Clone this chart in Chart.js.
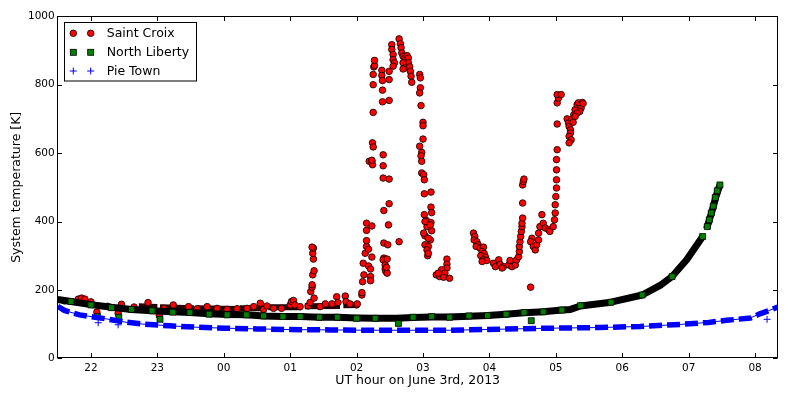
<!DOCTYPE html>
<html>
<head>
<meta charset="utf-8">
<script src="https://cdn.jsdelivr.net/npm/chart.js@4.4.0/dist/chart.umd.min.js"></script>
<style>
  html, body { margin: 0; padding: 0; background: #fff; }
  #wrap { width: 789px; height: 399px; }
</style>
</head>
<body>
<div id="wrap"><canvas id="tsysChart" width="789" height="399"></canvas></div>
<script>
// ==================== DATA ====================
// x = UT hour counted from 00h on June 2nd (24 = 00h on June 3rd), y = Tsys in K
const hourTicks = [22, 23, 24, 25, 26, 27, 28, 29, 30, 31, 32];
const tempTicks = [0, 200, 400, 600, 800, 1000];
const seriesNames = ['Saint Croix', 'North Liberty', 'Pie Town'];

// Saint Croix: individual samples
const saintCroix = [
  [21.6,168],[21.81,173],[21.86,176],[21.91,173],[22.0,165],[22.09,135],[22.25,152],[22.41,132],[22.46,158],
  [22.65,150],[22.86,163],[23.03,125],[23.1,146],[23.24,156],[23.47,151],[23.6,145],[23.75,151],[23.9,146],
  [24.05,143],[24.2,145],[24.35,146],[24.45,151],[24.55,161],[24.60,143],[24.65,153],[24.75,146],[24.87,146],
  [25.00,156],[25.02,166],[25.05,169],[25.07,156],[25.15,151],
  [25.27,153],[25.30,163],[25.36,176],[25.31,195],[25.33,208],[25.33,215],[25.34,244],[25.36,256],[25.35,290],
  [25.34,307],[25.35,322],[25.33,325],
  [25.45,151],[25.53,159],[25.63,159],[25.70,180],[25.72,163],[25.83,182],[25.84,166],[25.90,159],[26.00,156],[26.01,159],
  [26.08,185],[26.08,192],[26.09,224],[26.11,244],[26.10,278],[26.13,307],[26.15,327],[26.15,344],[26.15,374],
  [26.15,395],[26.23,387],[26.18,319],[26.23,296],[26.18,270],[26.21,261],[26.21,239],[26.21,227],
  [26.19,576],[26.23,576],[26.24,566],[26.23,579],[26.24,630],[26.25,618],[26.25,719],[26.25,800],[26.25,830],
  [26.26,852],[26.27,856],[26.27,871],
  [26.38,842],[26.38,827],[26.39,812],[26.39,784],[26.39,750],[26.40,595],[26.40,563],[26.40,527],[26.41,432],
  [26.41,337],[26.41,293],[26.40,288],[26.43,273],[26.43,261],[26.44,254],[26.46,249],[26.45,266],[26.46,290],
  [26.47,332],[26.48,390],[26.49,452],[26.49,524],[26.49,754],[26.49,815],[26.49,839],
  [26.53,917],[26.53,903],[26.55,888],[26.55,873],[26.57,864],[26.55,854],[26.64,934],[26.66,920],[26.67,908],
  [26.68,893],[26.70,883],[26.73,878],[26.76,885],[26.78,878],[26.78,864],[26.70,864],[26.73,849],[26.80,852],
  [26.81,839],[26.82,825],[26.83,807],[26.70,846],[26.64,341],
  [26.95,830],[26.96,820],[26.96,791],[26.95,776],[26.97,739],[27.00,690],[27.00,680],[27.00,641],[26.95,620],
  [26.98,602],[26.97,592],[26.98,576],[26.98,542],[27.01,537],[27.02,522],[27.02,481],[27.12,486],[27.12,442],
  [27.13,426],[27.02,420],[27.05,403],[27.12,397],[27.06,385],[27.13,373],[27.03,358],[27.11,346],[27.03,332],
  [27.08,327],[27.06,317],[27.07,300],[27.03,400],[27.11,390],[27.01,366],[27.08,351],[27.08,307],
  [27.36,290],[27.36,275],[27.36,264],[27.28,259],[27.33,249],[27.20,244],[27.25,239],[27.31,237],[27.40,234],[27.23,249],
  [27.76,366],[27.78,356],[27.77,346],[27.81,341],[27.83,332],[27.80,327],[27.86,322],[27.91,325],[27.89,312],
  [27.92,307],[27.87,300],[27.94,296],[27.91,288],[27.96,286],[27.89,283],
  [28.06,278],[28.09,268],[28.14,288],[28.16,275],[28.21,268],[28.19,264],[28.29,273],[28.31,286],[28.34,268],
  [28.39,273],[28.41,288],[28.44,297],[28.45,312],[28.45,327],[28.46,341],[28.47,356],[28.48,371],[28.49,385],
  [28.49,395],[28.50,410],[28.50,454],[28.50,507],[28.51,517],[28.52,524],[28.62,208],
  [28.64,351],[28.62,341],[28.66,327],[28.69,317],[28.71,332],[28.74,346],[28.74,366],[28.76,385],[28.79,420],
  [28.81,395],[28.84,381],[28.89,376],[28.91,371],[28.96,385],[28.98,405],[28.99,425],[28.99,449],[29.00,473],
  [29.01,498],[29.01,522],[29.01,551],[29.01,581],[29.02,610],[29.02,685],[29.02,747],[29.04,761],[29.02,771],[29.08,771],
  [29.17,700],[29.19,688],[29.20,678],[29.22,668],[29.22,659],[29.20,649],[29.23,639],[29.20,630],[29.24,698],
  [29.27,712],[29.29,727],[29.32,742],[29.34,747],[29.37,742],[29.38,732],[29.36,722],[29.32,717],[29.29,707],
  [29.26,690],[29.40,748],[29.41,745]
];

// Saint Croix: densely sampled baseline scans (start/end, null = gap)
const saintCroixScans = [
  [22.72,152],[23.0,150], null, [23.04,149],[23.55,146], null, [23.6,146],[24.2,144], null,
  [24.24,146],[24.63,146], null, [24.67,149],[25.17,149], null, [25.22,152],[25.75,153], null,
  [25.8,155],[26.02,156]
];

// North Liberty: track of the scans, and the last sample of each scan
const northLibertyScans = [
  [21.5,172],[21.70,166],[22.00,157],[22.31,149],[22.61,143],[22.92,139],[23.23,136],[23.49,134],[23.78,130],
  [24.05,128],[24.34,127],[24.60,124],[24.89,122],[25.15,122],[25.44,120],[25.71,120],[26.00,118],[26.28,117],
  [26.6,117],[26.85,119],[27.13,121],[27.40,121],[27.69,123],[27.97,125],[28.25,129],[28.52,133],[28.81,136],
  [29.09,141],[29.22,143],[29.37,153],[29.83,164],[30.30,185],[30.57,213],[30.75,239],[30.97,288],[31.21,356], null,
  [31.27,379],[31.35,429],[31.41,473],[31.47,507]
];
const northLiberty = [
  [21.70,166],[22.00,156],[22.10,122],[22.31,148],[22.42,120],[22.61,143],[22.92,139],[23.04,114],[23.23,135],
  [23.49,134],[23.78,129],[24.05,127],[24.34,127],[24.60,124],[24.89,122],[25.15,122],[25.44,120],[25.71,120],
  [26.00,117],[26.28,117],[26.63,102],[26.85,120],[27.13,122],[27.40,120],[27.69,124],[27.97,125],[28.25,129],
  [28.52,134],[28.63,110],[28.81,136],[29.09,141],[29.37,154],[29.83,164],[30.30,185],[30.75,239],[31.21,356],
  [31.28,385],[31.31,405],[31.34,425],[31.37,445],[31.40,470],[31.43,490],[31.47,507]
];

// Pie Town: track of the scans, and stray samples
const pieTownScans = [
  [21.5,152],[21.6,140],[21.83,127],[22.24,115],[22.51,106],[22.78,100],[23.19,95],[23.57,91],[24.02,88],
  [24.5,86],[25.0,84],[25.6,83],[26.2,82],[26.7,82],[27.4,82],[28.15,85],[28.9,88],[29.66,90],[30.27,93],
  [30.87,99],[31.3,105],[31.57,111],[31.93,118],[32.07,130],[32.2,139],[32.34,150]
];
const pieTown = [[22.11,104],[22.41,98],[32.18,114]];

// ==================== HELPERS ====================
function toPoints(list) {
  let lastX = 0;
  return list.map(p => {
    if (!p) return {x: lastX, y: null};
    lastX = p[0];
    return {x: p[0], y: p[1]};
  });
}

function hourLabel(v) {
  return String(v % 24).padStart(2, '0');
}

// frame with inward ticks on all sides, plus a matplotlib style legend
const framePlugin = {
  id: 'frameAndLegend',
  afterDatasetsDraw(chart) {
    const {ctx, chartArea: a, scales: {x, y}} = chart;
    const L = Math.round(a.left) - 0.5, R = Math.round(a.right) - 0.5;
    const T = Math.round(a.top) + 0.5, B = Math.round(a.bottom) - 0.5;
    ctx.save();
    ctx.strokeStyle = '#000';
    ctx.lineWidth = 1;
    ctx.beginPath();
    hourTicks.forEach(v => {
      const px = Math.round(x.getPixelForValue(v)) + 0.5;
      ctx.moveTo(px, B); ctx.lineTo(px, B - 4.5);
      ctx.moveTo(px, T); ctx.lineTo(px, T + 4.5);
    });
    tempTicks.forEach(v => {
      const py = Math.round(y.getPixelForValue(v)) + 0.5;
      ctx.moveTo(L, py); ctx.lineTo(L + 4.5, py);
      ctx.moveTo(R, py); ctx.lineTo(R - 4.5, py);
    });
    ctx.stroke();
    ctx.strokeRect(L, T, R - L, B - T);

    // legend
    ctx.fillStyle = '#fff';
    ctx.fillRect(64.5, 22.5, 132, 58.5);
    ctx.strokeRect(64.5, 22.5, 132, 58.5);
    const rows = [33.3, 52.3, 71];
    [73.3, 90.7].forEach(mx => {
      ctx.lineWidth = 0.8;
      ctx.beginPath();
      ctx.arc(mx, rows[0], 3.3, 0, Math.PI * 2);
      ctx.fillStyle = '#ff0000'; ctx.fill(); ctx.stroke();
      ctx.fillStyle = '#008000';
      ctx.fillRect(mx - 3, rows[1] - 3, 6, 6);
      ctx.strokeRect(mx - 3, rows[1] - 3, 6, 6);
      ctx.lineWidth = 1;
      ctx.strokeStyle = '#0000ff';
      ctx.beginPath();
      ctx.moveTo(mx - 3.5, rows[2]); ctx.lineTo(mx + 3.5, rows[2]);
      ctx.moveTo(mx, rows[2] - 3.5); ctx.lineTo(mx, rows[2] + 3.5);
      ctx.stroke();
      ctx.strokeStyle = '#000';
    });
    ctx.fillStyle = '#000';
    ctx.font = '12.5px "DejaVu Sans", sans-serif';
    ctx.textBaseline = 'middle';
    seriesNames.forEach((name, i) => ctx.fillText(name, 106.7, rows[i] + 0.5));
    ctx.restore();
  }
};

// ==================== CHART ====================
Chart.defaults.font.family = '"DejaVu Sans", sans-serif';
Chart.defaults.color = '#000';

new Chart(document.getElementById('tsysChart'), {
  type: 'scatter',
  data: {
    datasets: [
      {
        label: 'Saint Croix scans', data: toPoints(saintCroixScans), showLine: true, spanGaps: false,
        borderColor: '#240000', borderWidth: 6, borderCapStyle: 'butt', pointRadius: 0, order: 6
      },
      {
        label: seriesNames[0], data: toPoints(saintCroix), pointStyle: 'circle', pointRadius: 3.3,
        backgroundColor: '#ff0000', borderColor: '#000', borderWidth: 0.8, order: 5
      },
      {
        label: 'North Liberty scans', data: toPoints(northLibertyScans), showLine: true, spanGaps: false,
        borderColor: '#000', borderWidth: 7, borderJoinStyle: 'round',
        pointRadius: 0, order: 4
      },
      {
        label: seriesNames[1], data: toPoints(northLiberty), pointStyle: 'rect', pointRadius: 4.2,
        backgroundColor: '#008000', borderColor: '#000', borderWidth: 0.8, order: 3
      },
      {
        label: 'Pie Town track', data: toPoints(pieTownScans), showLine: true,
        borderColor: '#0000ff', borderWidth: 1, pointRadius: 0, order: 2
      },
      {
        label: 'Pie Town scans', data: toPoints(pieTownScans), showLine: true,
        borderColor: '#0000ff', borderWidth: 5.5, borderDash: [13, 5], borderCapStyle: 'butt',
        pointRadius: 0, order: 1
      },
      {
        label: seriesNames[2], data: toPoints(pieTown), pointStyle: 'cross', pointRadius: 3.5,
        borderColor: '#0000ff', borderWidth: 1, order: 0
      }
    ]
  },
  options: {
    responsive: false,
    animation: false,
    devicePixelRatio: 1,
    layout: {padding: {top: 16.3, right: 11.3, left: 0, bottom: 0}},
    plugins: {legend: {display: false}, tooltip: {enabled: false}},
    scales: {
      x: {
        type: 'linear', min: 21.5, max: 32.34,
        grid: {display: false, drawTicks: false}, border: {display: false},
        afterBuildTicks: s => { s.ticks = hourTicks.map(v => ({value: v})); },
        afterFit: s => { s.height = 40.7; },
        ticks: {autoSkip: false, maxRotation: 0, padding: 4, font: {size: 10.5}, callback: v => hourLabel(v)},
        title: {display: true, text: 'UT hour on June 3rd, 2013', font: {size: 12.5}, padding: {top: 0, bottom: 11}}
      },
      y: {
        min: 0, max: 1000,
        grid: {display: false, drawTicks: false}, border: {display: false},
        afterBuildTicks: s => { s.ticks = tempTicks.map(v => ({value: v})); },
        afterFit: s => { s.width = 57.7; },
        ticks: {padding: 3, font: {size: 10.5}, callback: v => String(v)},
        title: {display: true, text: 'System temperature [K]', font: {size: 12.5}, padding: {top: 9.5, bottom: 0}}
      }
    }
  },
  plugins: [framePlugin]
});
</script>
</body>
</html>
